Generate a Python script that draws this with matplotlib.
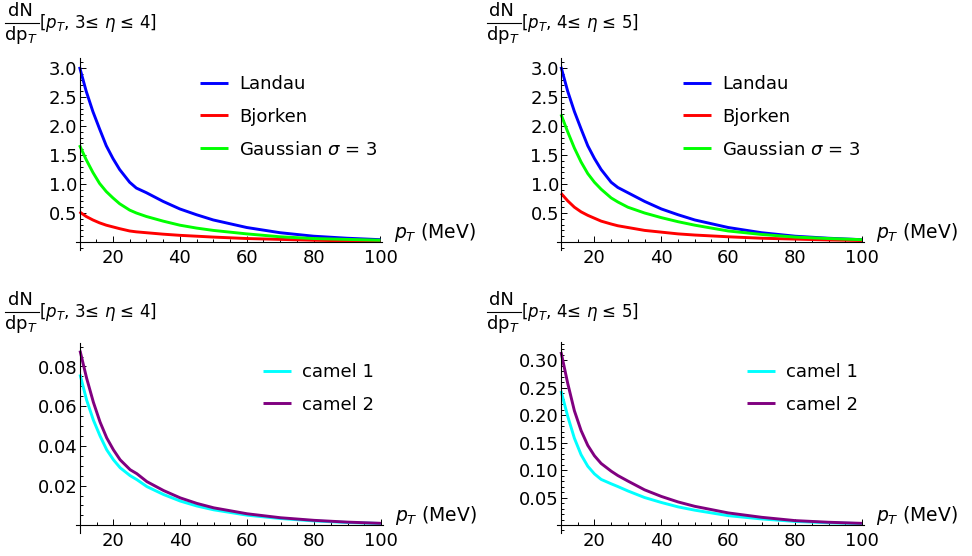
import matplotlib
matplotlib.use("Agg")
import matplotlib.pyplot as plt
from matplotlib.ticker import MultipleLocator, FormatStrFormatter
from matplotlib.lines import Line2D

plt.rcParams["font.family"] = ["DejaVu Sans"]
plt.rcParams["mathtext.fontset"] = "dejavusans"

# pT grid (MeV) the curves were read at
pt = [10, 12, 14, 16, 18, 20, 22, 25, 27, 30, 35, 40, 45, 50, 60, 70, 80, 90, 100]

# 3 <= eta <= 4
landau_34 = [3.02, 2.6, 2.25, 1.95, 1.66, 1.44, 1.25, 1.03, 0.93, 0.85, 0.7, 0.57, 0.47, 0.38, 0.25, 0.16, 0.1, 0.065, 0.04]
bjorken_34 = [0.52, 0.44, 0.38, 0.33, 0.29, 0.26, 0.23, 0.19, 0.175, 0.16, 0.135, 0.115, 0.1, 0.085, 0.06, 0.045, 0.03, 0.02, 0.015]
gauss_34 = [1.67, 1.42, 1.2, 1.01, 0.87, 0.76, 0.66, 0.55, 0.5, 0.44, 0.36, 0.29, 0.24, 0.2, 0.14, 0.09, 0.06, 0.045, 0.03]
camel1_34 = [0.076, 0.063, 0.053, 0.045, 0.038, 0.033, 0.029, 0.025, 0.023, 0.0195, 0.0155, 0.0122, 0.0097, 0.0078, 0.0051, 0.0034, 0.0022, 0.0014, 0.0009]
camel2_34 = [0.088, 0.074, 0.062, 0.052, 0.044, 0.038, 0.033, 0.028, 0.026, 0.022, 0.0175, 0.0138, 0.011, 0.0088, 0.0058, 0.0038, 0.0025, 0.0016, 0.001]

# 4 <= eta <= 5
landau_45 = [3.02, 2.6, 2.25, 1.95, 1.66, 1.44, 1.25, 1.03, 0.94, 0.85, 0.7, 0.57, 0.47, 0.38, 0.25, 0.16, 0.1, 0.065, 0.04]
bjorken_45 = [0.84, 0.71, 0.6, 0.52, 0.46, 0.41, 0.36, 0.31, 0.28, 0.25, 0.2, 0.17, 0.14, 0.12, 0.09, 0.065, 0.05, 0.035, 0.025]
gauss_45 = [2.2, 1.9, 1.62, 1.38, 1.18, 1.03, 0.91, 0.76, 0.69, 0.6, 0.5, 0.42, 0.35, 0.29, 0.19, 0.13, 0.085, 0.06, 0.04]
camel1_45 = [0.244, 0.198, 0.158, 0.128, 0.107, 0.093, 0.083, 0.075, 0.07, 0.062, 0.05, 0.041, 0.033, 0.027, 0.017, 0.011, 0.0065, 0.004, 0.0025]
camel2_45 = [0.315, 0.258, 0.208, 0.172, 0.145, 0.126, 0.112, 0.098, 0.09, 0.08, 0.064, 0.052, 0.042, 0.034, 0.022, 0.014, 0.008, 0.005, 0.003]

W, H = 972, 556
FS = 13
fig = plt.figure(figsize=(W / 100, H / 100), dpi=100)


def make_axes(x10, y0, sx, sy, top, bottom, major, minor, fmt):
    # place axes in pixel terms: x10 = pixel of pT=10, y0 = pixel of y=0
    left = x10 - 4
    rgt = x10 + 303
    ax = fig.add_axes([left / W, 1 - bottom / H, (rgt - left) / W, (bottom - top) / H])
    ymax = (y0 - top) / sy
    ax.set_xlim(10 - 4 / sx, 10 + (rgt - x10) / sx)
    ax.set_ylim(-(bottom - y0) / sy, ymax)
    for s in ["top", "right"]:
        ax.spines[s].set_visible(False)
    ax.spines["left"].set_position(("data", 10))
    ax.spines["bottom"].set_position(("data", 0))
    for s in ["left", "bottom"]:
        ax.spines[s].set_linewidth(0.8)
    ax.tick_params(which="both", direction="in", labelsize=FS, width=0.7)
    ax.tick_params(which="major", length=4.5)
    ax.tick_params(which="minor", length=2.5)
    ax.tick_params(axis="y", pad=1.5)
    ax.tick_params(axis="x", pad=5)
    ax.xaxis.set_major_locator(MultipleLocator(20))
    ax.xaxis.set_minor_locator(MultipleLocator(5))
    n = int(ymax / major + 1e-6)
    ax.set_yticks([major * (i + 1) for i in range(n)])
    ax.yaxis.set_minor_locator(MultipleLocator(minor))
    ax.yaxis.set_major_formatter(FormatStrFormatter(fmt))
    ax.annotate("$p_T$ (MeV)", xy=(100, 0), xytext=(14, 4), textcoords="offset pixels",
                fontsize=13.5, ha="left", va="baseline", annotation_clip=False)
    return ax


def title(x0, y0, eta):
    # fraction dN/dpT followed by the bracket, all in pixels
    def t(x, y, s, fs, **kw):
        fig.text(x / W, 1 - y / H, s, fontsize=fs, va="baseline", **kw)
    t(x0 + 15, y0 + 16, "dN", FS, ha="center")
    t(x0 + 16, y0 + 40, "dp$_T$", FS, ha="center")
    fig.add_artist(Line2D([(x0) / W, (x0 + 34) / W], [1 - (y0 + 23) / H] * 2, color="black", lw=0.8))
    t(x0 + 34, y0 + 28, "[$p_T$, " + eta, 12, ha="left")


def draw(ax, series, legend_xy):
    for y, c, lab in series:
        ax.plot(pt, y, color=c, lw=2.1, label=lab, solid_capstyle="butt")
    ax.legend(loc="upper left", bbox_to_anchor=(legend_xy[0] / W, 1 - legend_xy[1] / H),
              bbox_transform=fig.transFigure, frameon=False, fontsize=FS,
              handlelength=1.55, handletextpad=0.6, labelspacing=0.82,
              borderpad=0, borderaxespad=0)


# top row
ax1 = make_axes(79.5, 242, 3.344, 58, 58, 250, 0.5, 0.1, "%.1f")
draw(ax1, [(landau_34, "#0000ff", "Landau"), (bjorken_34, "#ff0000", "Bjorken"),
           (gauss_34, "#00ff00", r"Gaussian $\sigma$ = 3")], (200, 75))

ax2 = make_axes(561, 242, 3.344, 58, 58, 250, 0.5, 0.1, "%.1f")
draw(ax2, [(landau_45, "#0000ff", "Landau"), (bjorken_45, "#ff0000", "Bjorken"),
           (gauss_45, "#00ff00", r"Gaussian $\sigma$ = 3")], (683, 75))

# bottom row
ax3 = make_axes(80, 525.3, 3.344, 1985, 343, 533, 0.02, 0.005, "%.2f")
draw(ax3, [(camel1_34, "#00ffff", "camel 1"), (camel2_34, "#800080", "camel 2")], (263, 363))

ax4 = make_axes(561, 525, 3.344, 549.4, 341.7, 533, 0.05, 0.01, "%.2f")
draw(ax4, [(camel1_45, "#00ffff", "camel 1"), (camel2_45, "#800080", "camel 2")], (747, 363))

title(5, 0, r"3≤ $\eta$ ≤ 4]")
title(486.5, 0, r"4≤ $\eta$ ≤ 5]")
title(5, 289, r"3≤ $\eta$ ≤ 4]")
title(486.5, 289, r"4≤ $\eta$ ≤ 5]")

fig.savefig("out.png", dpi=100)
